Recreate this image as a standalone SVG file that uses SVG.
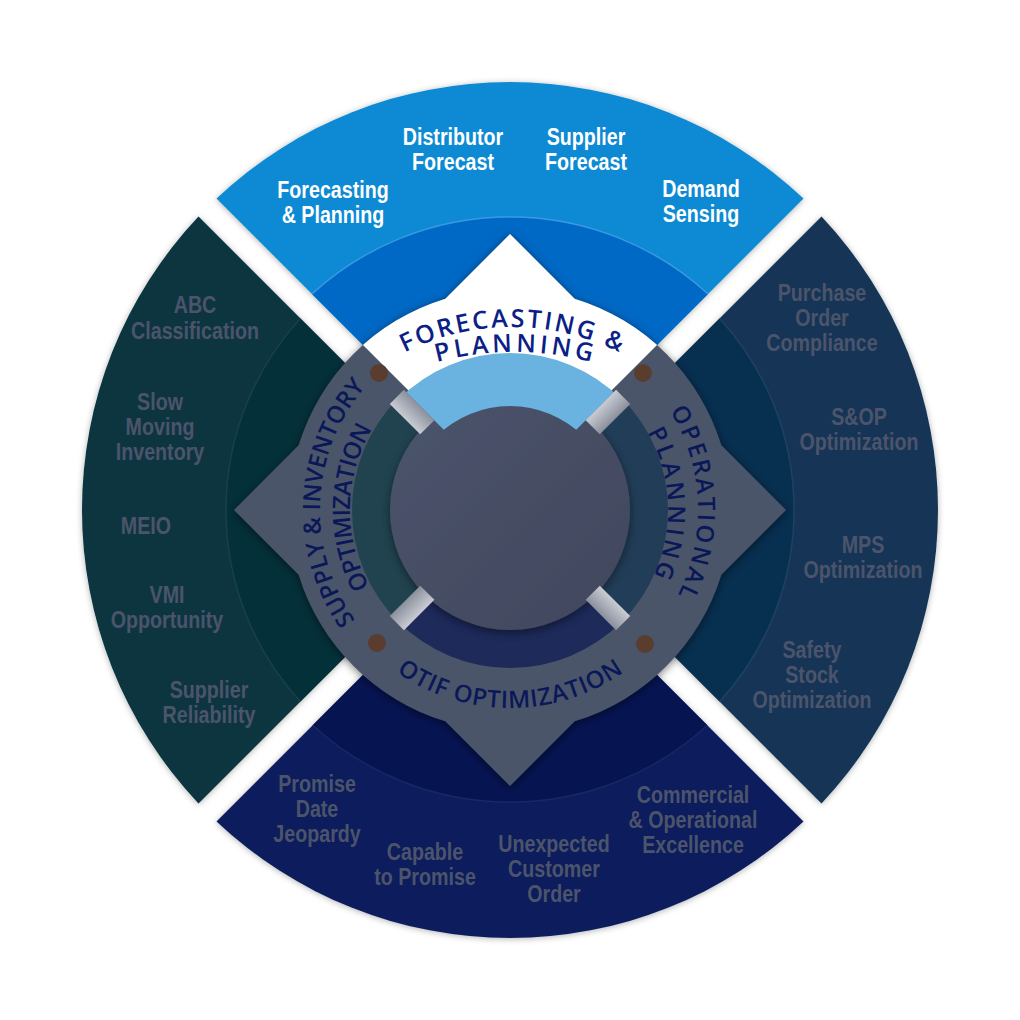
<svg xmlns="http://www.w3.org/2000/svg" width="1020" height="1020" viewBox="0 0 1020 1020">
<defs>
<style>
.lbl{font-family:"Liberation Sans",Arial,sans-serif;font-weight:bold;font-size:24px;text-anchor:middle}
.w{fill:#ffffff}
.g{fill:#4b546b}
.ring{font-family:"Open Sans","DejaVu Sans",sans-serif;font-weight:600;font-size:24px;fill:#0a1858}
.ringTop{font-family:"Open Sans","DejaVu Sans",sans-serif;font-weight:600;font-size:25px;fill:#0c1f86}
.rim{fill:none;stroke-width:1.5}
</style>
<filter id="qs" x="-10%" y="-10%" width="120%" height="120%"><feDropShadow dx="0" dy="1" stdDeviation="3" flood-color="#000" flood-opacity="0.3"/></filter>
<filter id="gs" x="-15%" y="-15%" width="130%" height="130%"><feDropShadow dx="0" dy="2" stdDeviation="4" flood-color="#000" flood-opacity="0.5"/></filter>
<filter id="ds" x="-20%" y="-20%" width="140%" height="140%"><feDropShadow dx="0" dy="3" stdDeviation="5" flood-color="#000" flood-opacity="0.45"/></filter>
<linearGradient id="conn" x1="0" y1="0" x2="0" y2="1"><stop offset="0" stop-color="#caccd3"/><stop offset="1" stop-color="#8a909c"/></linearGradient>
<linearGradient id="disk" x1="0" y1="0" x2="1" y2="1"><stop offset="0" stop-color="#4c546b"/><stop offset="1" stop-color="#40475d"/></linearGradient>
<clipPath id="topClip"><path d="M510,492 L80,62 L940,62 Z"/></clipPath>
<clipPath id="bandClip"><path d="M510,496 L300,286 L720,286 Z"/></clipPath>
<path id="pTop1" d="M380,366.6 A240,240 0 0 1 644,366.6"/>
<path id="pTop2" d="M394,377.05 A300,300 0 0 1 634,377.05"/>
<path id="pL1" d="M387.87,655.55 A190,190 0 0 1 401.02,354.36"/>
<path id="pL2" d="M407.15,632.57 A160,160 0 0 1 411.49,383.92"/>
<path id="pR1" d="M604,347.19 A188,188 0 0 1 617.83,664"/>
<path id="pR2" d="M589,373.17 A158,158 0 0 1 600.63,639.43"/>
<path id="pB" d="M382.73,661.68 A198,198 0 0 0 637.27,661.68"/>
</defs>
<rect width="1020" height="1020" fill="#ffffff"/>

<g id="q-top">
<path d="M510,492 L216.5,198.5 A428,428 0 0 1 803.5,198.5 Z" fill="#0b8ad3" filter="url(#qs)"/>
<path d="M510,492 L312,294 A293,293 0 0 1 708,294 Z" fill="#0068c5"/>
<path class="rim" d="M312,294 A293,293 0 0 1 708,294" stroke="#4fa6ea" opacity="0.7"/>
<text class="lbl w" transform="translate(333,0) scale(0.82,1)"><tspan x="0" y="198">Forecasting</tspan><tspan x="0" y="223">&amp; Planning</tspan></text>
<text class="lbl w" transform="translate(453,0) scale(0.82,1)"><tspan x="0" y="145">Distributor</tspan><tspan x="0" y="170">Forecast</tspan></text>
<text class="lbl w" transform="translate(586,0) scale(0.82,1)"><tspan x="0" y="145">Supplier</tspan><tspan x="0" y="170">Forecast</tspan></text>
<text class="lbl w" transform="translate(701,0) scale(0.82,1)"><tspan x="0" y="197">Demand</tspan><tspan x="0" y="222">Sensing</tspan></text>
</g>

<g id="q-right">
<path d="M528,510 L821.5,216.5 A428,428 0 0 1 821.5,803.5 Z" fill="#123657" filter="url(#qs)"/>
<path d="M528,510 L719.6,318.4 A284,284 0 0 1 719.6,701.6 Z" fill="#072f50"/>
<path class="rim" d="M719.6,318.4 A284,284 0 0 1 719.6,701.6" stroke="#2a4d6c" opacity="0.6"/>
<text class="lbl g" transform="translate(822,0) scale(0.82,1)"><tspan x="0" y="301">Purchase</tspan><tspan x="0" y="326">Order</tspan><tspan x="0" y="351">Compliance</tspan></text>
<text class="lbl g" transform="translate(859,0) scale(0.82,1)"><tspan x="0" y="425">S&amp;OP</tspan><tspan x="0" y="450">Optimization</tspan></text>
<text class="lbl g" transform="translate(863,0) scale(0.82,1)"><tspan x="0" y="553">MPS</tspan><tspan x="0" y="578">Optimization</tspan></text>
<text class="lbl g" transform="translate(812,0) scale(0.82,1)"><tspan x="0" y="658">Safety</tspan><tspan x="0" y="683">Stock</tspan><tspan x="0" y="708">Optimization</tspan></text>
</g>

<g id="q-bottom">
<path d="M510,528 L803.5,821.5 A428,428 0 0 1 216.5,821.5 Z" fill="#0c1f5b" filter="url(#qs)"/>
<path d="M510,528 L707.3,725.3 A292,292 0 0 1 312.7,725.3 Z" fill="#061452"/>
<path class="rim" d="M707.3,725.3 A292,292 0 0 1 312.7,725.3" stroke="#22336e" opacity="0.6"/>
<text class="lbl g" transform="translate(317,0) scale(0.82,1)"><tspan x="0" y="792">Promise</tspan><tspan x="0" y="817">Date</tspan><tspan x="0" y="842">Jeopardy</tspan></text>
<text class="lbl g" transform="translate(425,0) scale(0.82,1)"><tspan x="0" y="860">Capable</tspan><tspan x="0" y="885">to Promise</tspan></text>
<text class="lbl g" transform="translate(554,0) scale(0.82,1)"><tspan x="0" y="852">Unexpected</tspan><tspan x="0" y="877">Customer</tspan><tspan x="0" y="902">Order</tspan></text>
<text class="lbl g" transform="translate(693,0) scale(0.82,1)"><tspan x="0" y="803">Commercial</tspan><tspan x="0" y="828">&amp; Operational</tspan><tspan x="0" y="853">Excellence</tspan></text>
</g>

<g id="q-left">
<path d="M492,510 L198.5,803.5 A428,428 0 0 1 198.5,216.5 Z" fill="#07343f" filter="url(#qs)"/>
<path d="M492,510 L300.4,701.6 A284,284 0 0 1 300.4,318.4 Z" fill="#043039"/>
<path class="rim" d="M300.4,701.6 A284,284 0 0 1 300.4,318.4" stroke="#234a55" opacity="0.6"/>
<text class="lbl g" transform="translate(195,0) scale(0.82,1)"><tspan x="0" y="313">ABC</tspan><tspan x="0" y="339">Classification</tspan></text>
<text class="lbl g" transform="translate(160,0) scale(0.82,1)"><tspan x="0" y="410">Slow</tspan><tspan x="0" y="435">Moving</tspan><tspan x="0" y="460">Inventory</tspan></text>
<text class="lbl g" transform="translate(146,0) scale(0.82,1)"><tspan x="0" y="534">MEIO</tspan></text>
<text class="lbl g" transform="translate(167,0) scale(0.82,1)"><tspan x="0" y="603">VMI</tspan><tspan x="0" y="628">Opportunity</tspan></text>
<text class="lbl g" transform="translate(209,0) scale(0.82,1)"><tspan x="0" y="698">Supplier</tspan><tspan x="0" y="723">Reliability</tspan></text>
</g>

<g id="hub">
<path id="hub-shape" d="M510,234 L574.68,298.68 A221,221 0 0 1 721.32,445.32 L786,510 L721.32,574.68 A221,221 0 0 1 574.68,721.32 L510,786 L445.32,721.32 A221,221 0 0 1 298.68,574.68 L234,510 L298.68,445.32 A221,221 0 0 1 445.32,298.68 Z" fill="#4c556a" filter="url(#gs)"/>
<path d="M510,234 L574.68,298.68 A221,221 0 0 1 721.32,445.32 L786,510 L721.32,574.68 A221,221 0 0 1 574.68,721.32 L510,786 L445.32,721.32 A221,221 0 0 1 298.68,574.68 L234,510 L298.68,445.32 A221,221 0 0 1 445.32,298.68 Z" fill="#ffffff" clip-path="url(#topClip)"/>
<path d="M398.28,621.72 A158,158 0 0 1 398.28,398.28 L426.56,426.56 A118,118 0 0 0 426.56,593.44 Z" fill="#20434f"/>
<path d="M621.72,398.28 A158,158 0 0 1 621.72,621.72 L593.44,593.44 A118,118 0 0 0 593.44,426.56 Z" fill="#213d57"/>
<path d="M621.72,621.72 A158,158 0 0 1 398.28,621.72 L426.56,593.44 A118,118 0 0 0 593.44,593.44 Z" fill="#1d2a5a"/>
<circle cx="510" cy="510" r="120" fill="url(#disk)" filter="url(#ds)"/>
<path d="M353,510 A157,157 0 1 1 667,510 A157,157 0 1 1 353,510 Z M406,510 A104,104 0 1 0 614,510 A104,104 0 1 0 406,510 Z" fill="#6ab2e0" fill-rule="evenodd" clip-path="url(#bandClip)"/>
<circle cx="379" cy="373" r="9" fill="#5a3d2e"/>
<circle cx="643" cy="373" r="9" fill="#5a3d2e"/>
<circle cx="377" cy="643" r="9" fill="#5a3d2e"/>
<circle cx="645" cy="644" r="9" fill="#5a3d2e"/>
<text class="ringTop"><textPath href="#pTop1" startOffset="50%" text-anchor="middle" textLength="223" lengthAdjust="spacing">FORECASTING &amp;</textPath></text>
<text class="ringTop"><textPath href="#pTop2" startOffset="50%" text-anchor="middle" textLength="156" lengthAdjust="spacing">PLANNING</textPath></text>
<text class="ring"><textPath href="#pL1" startOffset="50%" text-anchor="middle" textLength="252" lengthAdjust="spacing">SUPPLY &amp; INVENTORY</textPath></text>
<text class="ring"><textPath href="#pL2" startOffset="50%" text-anchor="middle" textLength="165" lengthAdjust="spacing">OPTIMIZATION</textPath></text>
<text class="ring"><textPath href="#pR1" startOffset="50%" text-anchor="middle" textLength="192" lengthAdjust="spacing">OPERATIONAL</textPath></text>
<text class="ring"><textPath href="#pR2" startOffset="50%" text-anchor="middle" textLength="149" lengthAdjust="spacing">PLANNING</textPath></text>
<text class="ring"><textPath href="#pB" startOffset="50%" text-anchor="middle" textLength="242" lengthAdjust="spacing">OTIF OPTIMIZATION</textPath></text>
</g>

<g id="connectors">
<rect x="117" y="-10" width="43" height="20" fill="url(#conn)" transform="translate(510,510) rotate(225)"/>
<rect x="117" y="-10" width="43" height="20" fill="url(#conn)" transform="translate(510,510) rotate(315)"/>
<rect x="117" y="-10" width="43" height="20" fill="url(#conn)" transform="translate(510,510) rotate(45)"/>
<rect x="117" y="-10" width="43" height="20" fill="url(#conn)" transform="translate(510,510) rotate(135)"/>
</g>
</svg>
